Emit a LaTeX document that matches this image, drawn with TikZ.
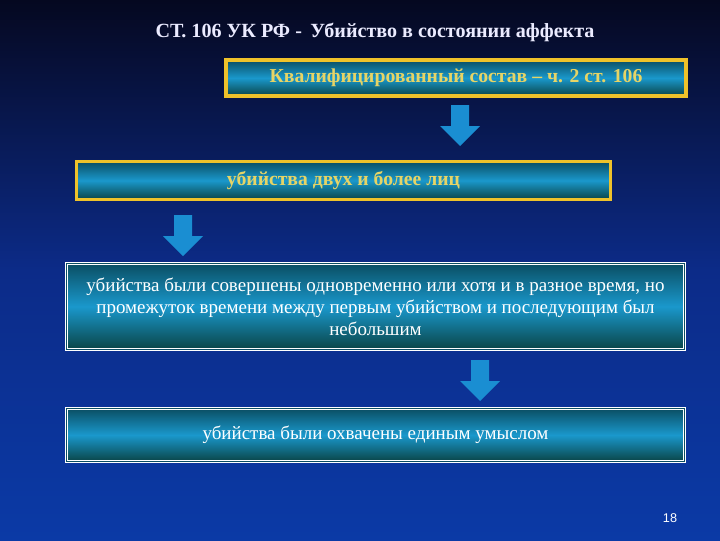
\documentclass[tikz,border=0pt]{standalone}
\usepackage{fontspec}
\setmainfont{Liberation Serif}
\setsansfont{Liberation Sans}

\definecolor{bgtop}{HTML}{050820}
\definecolor{bgmid}{HTML}{0C2B88}
\definecolor{bgbot}{HTML}{0B3AA6}
\definecolor{gold}{HTML}{EFC22A}
\definecolor{goldtext}{HTML}{E6D466}
\definecolor{tealdark}{HTML}{0A4E63}
\definecolor{tealbot}{HTML}{0A4446}
\definecolor{cyanmid}{HTML}{1A98CC}
\definecolor{arrowblue}{HTML}{1A8ED2}

\begin{document}
\begin{tikzpicture}[x=0.025cm, y=0.025cm]

	% Define styles
	\tikzstyle{goldbox} = [rectangle, draw=gold, line width=2.5pt, top color=tealdark, bottom color=tealbot, middle color=cyanmid, text=goldtext, font=\fontsize{14}{16}\selectfont\bfseries, text centered]
	\tikzstyle{whitebox} = [rectangle, draw=white, line width=0.5pt, double=tealdark, double distance=1.2pt, top color=tealdark, bottom color=tealbot, middle color=cyanmid, text=white, font=\fontsize{13.5}{15.5}\selectfont, align=center]
	\tikzstyle{blockarrow} = [fill=arrowblue]

	% Background
	\shade[top color=bgtop, bottom color=bgbot, middle color=bgmid] (0,0) rectangle (720,-540);
	\useasboundingbox (0,0) rectangle (720,-540);

	% Title
	\node[text=white!92!blue, font=\fontsize{14.3}{16}\selectfont\bfseries] (title) at (375,-32) {СТ. 106 УК РФ -\, Убийство в состоянии аффекта};

	% Nodes
	\node[goldbox, minimum width=11.5cm, minimum height=0.9cm] (qual) at (456,-78) {Квалифицированный состав – ч. 2 ст. 106};
	\node[goldbox, minimum width=13.35cm, minimum height=0.95cm] (two) at (343.5,-180.5) {убийства двух и более лиц};
	\node[whitebox, minimum width=15.45cm, minimum height=2.15cm] (time) at (375.5,-306.5) {убийства были совершены одновременно или хотя и в разное время, но\\промежуток времени между первым убийством и последующим был\\небольшим};
	\node[whitebox, minimum width=15.45cm, minimum height=1.33cm] (intent) at (375.5,-435) {убийства были охвачены единым умыслом};

	% Arrows
	\foreach \x/\y in {460/-105, 183/-215, 480/-360}
		\fill[blockarrow] (\x,\y) ++(-9,0) -- ++(18,0) -- ++(0,-21) -- ++(11,0) -- ++(-20,-20) -- ++(-20,20) -- ++(11,0) -- cycle;

	% Page number
	\node[text=white, font=\sffamily\fontsize{9}{10}\selectfont] (page) at (670,-518) {18};

\end{tikzpicture}
\end{document}
